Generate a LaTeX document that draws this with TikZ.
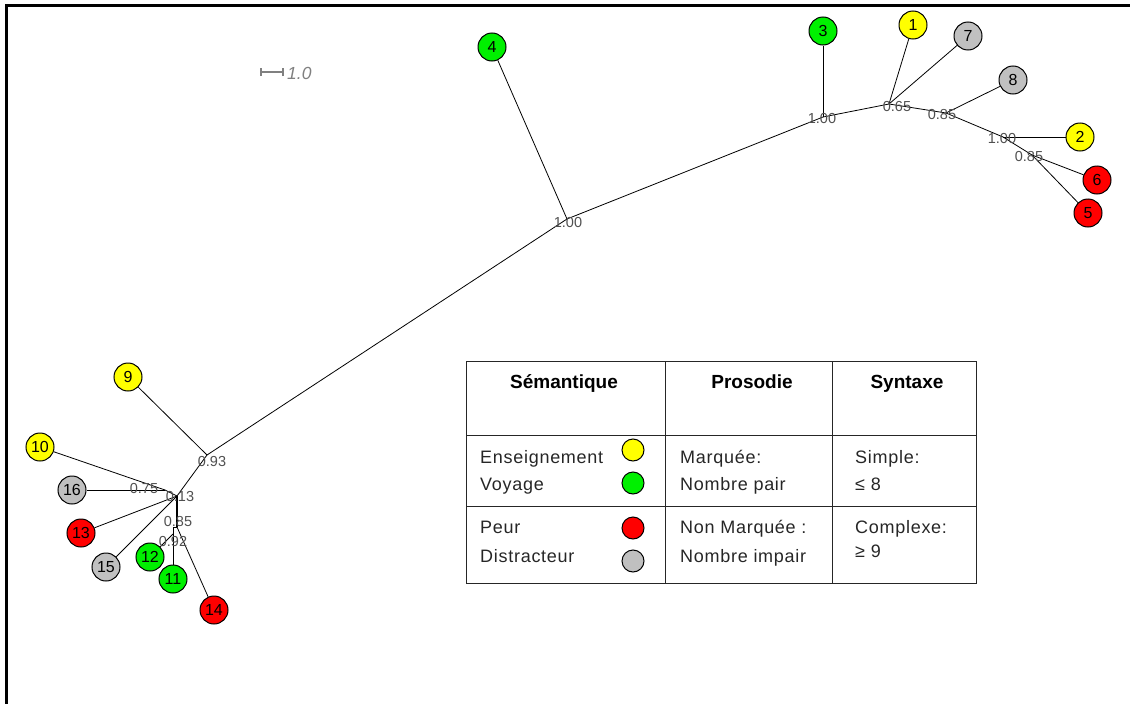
\documentclass[tikz,border=0pt]{standalone}
\usepackage{fontspec}
\setmainfont{Liberation Sans}
\newfontfamily\legfont[LetterSpace=4]{Liberation Sans}
\definecolor{cyel}{RGB}{255,255,0}
\definecolor{cgrn}{RGB}{0,240,0}
\definecolor{cred}{RGB}{255,0,0}
\definecolor{cgry}{RGB}{192,192,192}
\definecolor{labgray}{RGB}{80,80,80}
\definecolor{scalegray}{RGB}{128,128,128}
\begin{document}
\begin{tikzpicture}[x=1pt,y=-1pt,
  leaf/.style={circle, draw=black, line width=1pt, minimum size=28pt, inner sep=0pt, font=\fontsize{16}{16}\selectfont},
  yel/.style={leaf, fill=cyel},
  grn/.style={leaf, fill=cgrn},
  rd/.style={leaf, fill=cred},
  gry/.style={leaf, fill=cgry},
  branch/.style={line width=0.8pt, black},
  blab/.style={text=labgray, font=\fontsize{14.5}{14.5}\selectfont, inner sep=0pt},
  legdot/.style={circle, draw=black, line width=1pt, minimum size=22pt, inner sep=0pt},
  legtxt/.style={anchor=base west, inner sep=0pt, font=\legfont\fontsize{18}{18}\selectfont, text=black!85},
  leghead/.style={anchor=base, inner sep=0pt, font=\bfseries\fontsize{19}{19}\selectfont},
  tabline/.style={line width=0.9pt, black!85}
]
\useasboundingbox (0,0) rectangle (1130,704);
% frame
\draw[line width=3pt] (6.5,704) -- (6.5,5.5) -- (1130,5.5);

% scale bar
\coordinate (sb1) at (261,72);
\coordinate (sb2) at (283,72);
\draw[scalegray, line width=1.2pt] (sb1) -- (sb2);
\draw[scalegray, line width=1.2pt] ([yshift=-4pt]sb1) -- ([yshift=4pt]sb1);
\draw[scalegray, line width=1.2pt] ([yshift=-4pt]sb2) -- ([yshift=4pt]sb2);
\node[anchor=base west, inner sep=0pt, text=scalegray, font=\itshape\fontsize{17.5}{17.5}\selectfont] (sbt) at (287,79) {1.0};

% internal coordinates
\coordinate (A) at (207,455);
\coordinate (C) at (165,490);
\coordinate (B) at (177,496);
\coordinate (D) at (177,527);
\coordinate (E) at (173,534);
\coordinate (K) at (567,219);
\coordinate (F) at (823,117);
\coordinate (G) at (889,104);
\coordinate (H) at (946,113);
\coordinate (I) at (1003,137);
\coordinate (J) at (1032,155);

% leaves
\node[grn] (n4) at (492,47) {4};
\node[grn] (n3) at (823,31) {3};
\node[yel] (n1) at (913,25) {1};
\node[gry] (n7) at (968,36) {7};
\node[gry] (n8) at (1013,80) {8};
\node[yel] (n2) at (1080,137) {2};
\node[rd]  (n6) at (1097,180) {6};
\node[rd]  (n5) at (1088,213) {5};
\node[yel] (n9) at (128,377) {9};
\node[yel] (n10) at (40,447) {10};
\node[gry] (n16) at (72,490) {16};
\node[rd]  (n13) at (81,533) {13};
\node[gry] (n15) at (106,567) {15};
\node[grn] (n12) at (150,557) {12};
\node[grn] (n11) at (173,579) {11};
\node[rd]  (n14) at (214,610) {14};

% branches
\draw[branch] (A) -- (n9);
\draw[branch] (A) -- (K);
\draw[branch] (A) -- (B);
\draw[branch] (B) -- (C);
\draw[branch] (C) -- (n10);
\draw[branch] (C) -- (n16);
\draw[branch] (B) -- (n13);
\draw[branch] (B) -- (n15);
\draw[line width=1.6pt] (B) -- (D);
\draw[branch] (D) -- (n14);
\draw[branch] (D) -- (173,527) -- (E);
\draw[branch] (E) -- (n11);
\draw[branch] (E) -- (n12);
\draw[branch] (K) -- (n4);
\draw[branch] (K) -- (F);
\draw[branch] (F) -- (n3);
\draw[branch] (F) -- (G);
\draw[branch] (G) -- (n1);
\draw[branch] (G) -- (n7);
\draw[branch] (G) -- (H);
\draw[branch] (H) -- (n8);
\draw[branch] (H) -- (I);
\draw[branch] (I) -- (n2);
\draw[branch] (I) -- (J);
\draw[branch] (J) -- (n6);
\draw[branch] (J) -- (n5);

% branch labels
\node[blab] (lA) at (212,462) {0.93};
\node[blab] (lC) at (144,489) {0.75};
\node[blab] (lB) at (180,497) {0.13};
\node[blab] (lD) at (178,522) {0.85};
\node[blab] (lE) at (173,542) {0.92};
\node[blab] (lK) at (568,223) {1.00};
\node[blab] (lF) at (822,119) {1.00};
\node[blab] (lG) at (897,107) {0.65};
\node[blab] (lH) at (942,115) {0.85};
\node[blab] (lI) at (1002,139) {1.00};
\node[blab] (lJ) at (1029,157) {0.85};

% legend table
\draw[tabline] (466,361) rectangle (976,583);
\draw[tabline] (665,361) -- (665,583);
\draw[tabline] (832,361) -- (832,583);
\draw[tabline] (466,435) -- (976,435);
\draw[tabline] (466,506) -- (976,506);

\node[leghead] (h1) at (564,388) {Sémantique};
\node[leghead] (h2) at (752,388) {Prosodie};
\node[leghead] (h3) at (907,388) {Syntaxe};

\node[legtxt] (t1) at (480,463) {Enseignement};
\node[legtxt] (t2) at (480,490) {Voyage};
\node[legtxt] (t3) at (480,533) {Peur};
\node[legtxt] (t4) at (480,562) {Distracteur};
\node[legdot, fill=cyel] (d1) at (633,450) {};
\node[legdot, fill=cgrn] (d2) at (633,483) {};
\node[legdot, fill=cred] (d3) at (633,528) {};
\node[legdot, fill=cgry] (d4) at (633,561) {};

\node[legtxt] (p1) at (680,463) {Marquée:};
\node[legtxt] (p2) at (680,490) {Nombre pair};
\node[legtxt] (p3) at (680,533) {Non Marquée :};
\node[legtxt] (p4) at (680,562) {Nombre impair};

\node[legtxt] (s1) at (855,463) {Simple:};
\node[legtxt] (s2) at (855,490) {≤ 8};
\node[legtxt] (s3) at (855,533) {Complexe:};
\node[legtxt] (s4) at (855,557) {≥ 9};
\end{tikzpicture}
\end{document}
